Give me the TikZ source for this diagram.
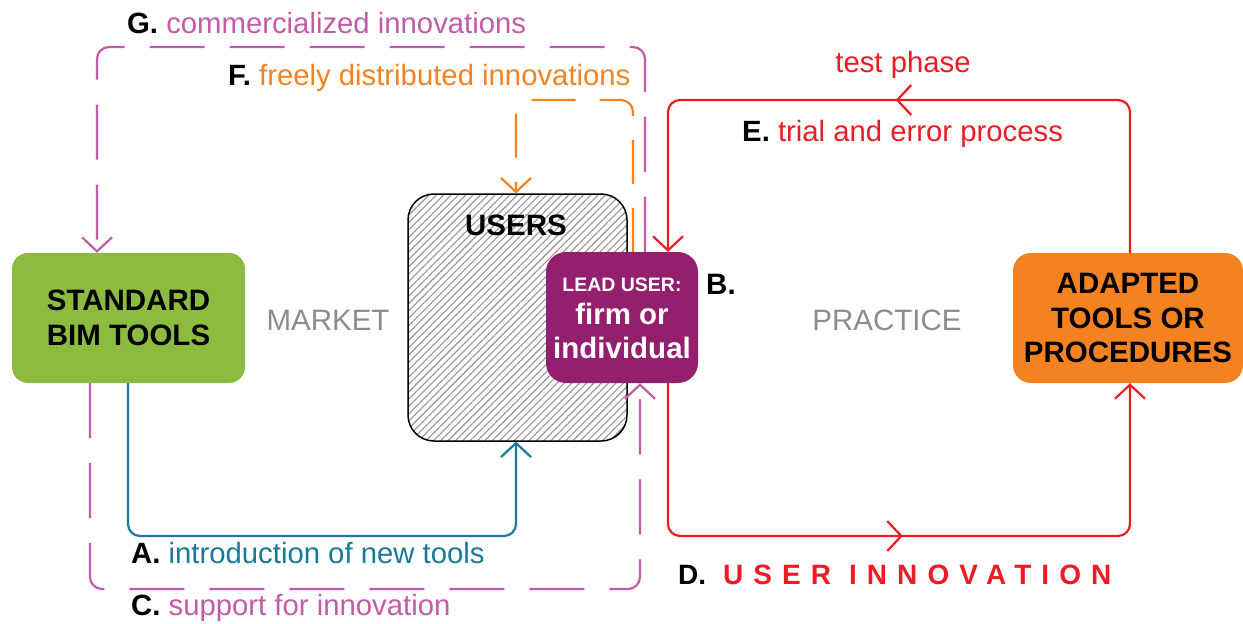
\documentclass[tikz,border=0pt]{standalone}
\usepackage{fontspec}
\setmainfont{Liberation Sans}
\usetikzlibrary{arrows.meta,patterns.meta,decorations.markings,calc}
\definecolor{bimgreen}{HTML}{8CBB3F}
\definecolor{leadpurple}{HTML}{931F6E}
\definecolor{adaptorange}{HTML}{F58220}
\definecolor{introblue}{HTML}{1A7899}
\definecolor{supmag}{HTML}{C25BA8}
\definecolor{innored}{HTML}{ED1C24}
\definecolor{areagray}{HTML}{8C8C8C}
\tikzset{
  conn/.style={line width=2.2pt, rounded corners=12pt},
  tipv/.style={-{Straight Barb[length=14pt,width=30pt]}},
  magdash/.style={dash pattern=on 55pt off 25pt},
  orgdash/.style={dash pattern=on 44pt off 24pt},
  lbl/.style={inner sep=0pt, anchor=base west, font=\fontsize{29.3}{33}\selectfont},
  boxtext/.style={inner sep=0pt, align=center, font=\fontsize{29.5}{34.5}\selectfont\bfseries},
  area/.style={inner sep=0pt, text=areagray, font=\fontsize{29.5}{34}\selectfont},
  midarrow/.style={postaction={decorate}, decoration={markings, mark=at position #1 with {\arrow{Straight Barb[length=14pt,width=30pt]}}}},
}
\begin{document}
\begin{tikzpicture}[x=1pt,y=-1pt]
\useasboundingbox (0,0) rectangle (1243,624);

% boxes
\node[boxtext, fill=bimgreen, rounded corners=16pt, minimum width=233pt, minimum height=130pt] (std) at (128.5,318) {STANDARD\\BIM TOOLS};
\node[draw=black, line width=1.5pt, rounded corners=26pt, minimum width=219pt, minimum height=247pt,
      pattern={Lines[angle=45,distance=5.2pt,line width=1.1pt]}, pattern color=black!42] (users) at (517.5,317.5) {};
\node[boxtext, anchor=base] (userslbl) at (516,235) {USERS};
\node[fill=leadpurple, rounded corners=20pt, minimum width=152pt, minimum height=131pt, inner sep=0pt] (lead) at (622,317.5) {};
\node[inner sep=0pt, anchor=base, text=white, font=\fontsize{19.5}{22}\selectfont\bfseries] (lu1) at (622,291) {LEAD USER:};
\node[inner sep=0pt, anchor=base, text=white, font=\fontsize{29.5}{34}\selectfont\bfseries] (lu2) at (622,324) {firm or};
\node[inner sep=0pt, anchor=base, text=white, font=\fontsize{29.5}{34}\selectfont\bfseries] (lu3) at (622,358) {individual};
\node[boxtext, fill=adaptorange, rounded corners=18pt, minimum width=230pt, minimum height=130pt] (adapt) at (1128,318) {ADAPTED\\TOOLS OR\\PROCEDURES};

\node[area] (market) at (328,320) {MARKET};
\node[area] (practice) at (887,320) {PRACTICE};
\node[inner sep=0pt, anchor=base west, font=\fontsize{29.5}{34}\selectfont\bfseries] (blbl) at (706,294) {B.};

% coordinates for connector bends
\coordinate (A1) at (128,536);
\coordinate (A2) at (516,536);
\coordinate (C1) at (90,589);
\coordinate (C2) at (640,589);
\coordinate (G1) at (645,47);
\coordinate (G2) at (97,47);
\coordinate (F1) at (633,100);
\coordinate (F2) at (516,100);
\coordinate (E1) at (1130,100);
\coordinate (E2) at (668,100);
\coordinate (D1) at (668,536);
\coordinate (D2) at (1130,536);

% A
\draw[conn, introblue, tipv] (A1 |- std.south) -- (A1) -- (A2) -- (A2 |- users.south);
% C
\draw[conn, supmag, magdash, tipv] (C1 |- std.south) -- (C1) -- (C2) -- (C2 |- lead.south);
% G
\draw[conn, supmag, magdash, tipv] (G1 |- lead.north) -- (G1) -- (G2) -- (G2 |- std.north);
% F
\draw[conn, adaptorange, orgdash, tipv] (F1 |- lead.north) -- (F1) -- (F2) -- (F2 |- users.north);
% E
\draw[conn, innored, tipv, midarrow=0.505] (E1 |- adapt.north) -- (E1) -- (E2) -- (E2 |- lead.north);
% D
\draw[conn, innored, tipv, midarrow=0.505] (D1 |- lead.south) -- (D1) -- (D2) -- (D2 |- adapt.south);

% labels
\node[lbl] (glbl) at (127,33) {\textbf{G.} \textcolor{supmag}{commercialized innovations}};
\node[lbl] (flbl) at (228,85) {\textbf{F.} \textcolor{adaptorange}{freely distributed innovations}};
\node[lbl, anchor=base, text=innored] (tlbl) at (903,72) {test phase};
\node[lbl] (elbl) at (742,141) {\textbf{E.} \textcolor{innored}{trial and error process}};
\node[lbl] (albl) at (131,563) {\textbf{A.} \textcolor{introblue}{introduction of new tools}};
\node[lbl] (clbl) at (131,615) {\textbf{C.} \textcolor{supmag}{support for innovation}};
\node[lbl, font=\fontsize{28}{32}\selectfont\bfseries] (dlbl) at (678,584) {D.\hspace{17pt}\textcolor{innored}{\addfontfeature{LetterSpace=36}USER INNOVATION}};
\end{tikzpicture}
\end{document}
